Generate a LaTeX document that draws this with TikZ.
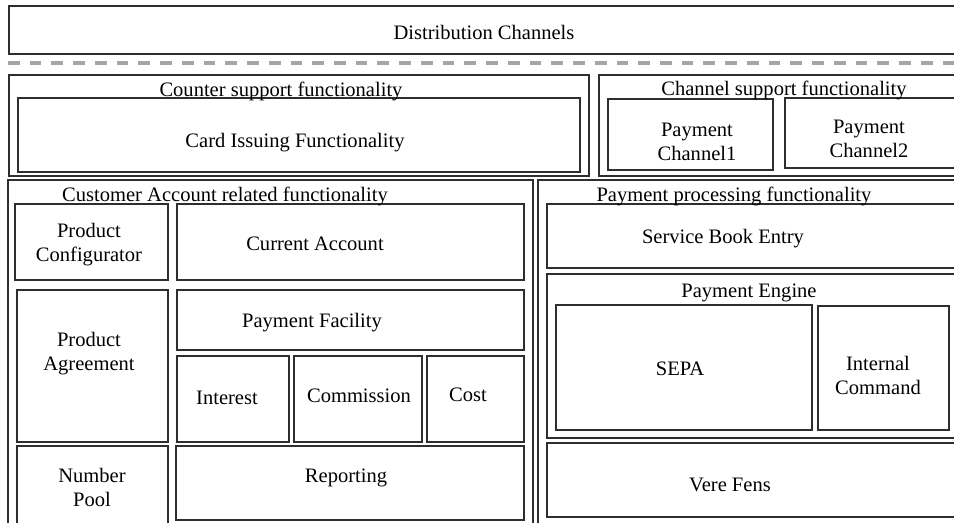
\documentclass[tikz,border=0pt]{standalone}
\usepackage{fontspec}
\setmainfont{Liberation Serif}
\definecolor{linec}{HTML}{2E2E2E}
\definecolor{dashc}{HTML}{A6A6A6}
\newcommand\pxbox[5]{%
  \node[box, minimum width={(#4-#2)*0.75pt}, minimum height={(#5-#3)*0.75pt}] (#1) at ({(#2+#4)/2},{(#3+#5)/2}) {};}
\begin{document}
\begin{tikzpicture}[x=0.75pt,y=-0.75pt,
  box/.style={draw=linec, line width=0.95pt, inner sep=0pt, outer sep=0pt},
  lbl/.style={inner sep=0pt, align=center, yshift=-1.8pt, font=\fontsize{15.4}{18}\selectfont},
  dashline/.style={draw=dashc, line width=3pt, dash pattern=on 8.8pt off 7.5pt}]
\useasboundingbox (0,0) rectangle (954,522);
\clip (0,0) rectangle (954,522);
\fill[white] (0,0) rectangle (954,522);

% top
\pxbox{dist}{9}{6}{960}{54}
\coordinate (dl) at (8,63);
\coordinate (dr) at (962,63);
\draw[dashline] (dl) -- (dr);

% counter support
\pxbox{counter}{9}{75}{589}{176}
\pxbox{card}{18}{98}{580}{172}
% channel support
\pxbox{chansup}{599}{75}{960}{176}
\pxbox{pcone}{608}{99}{773}{170}
\pxbox{pctwo}{785}{98}{956}{168}

% customer account
\pxbox{custacc}{8}{180}{533}{540}
\pxbox{prodconf}{15}{204}{168}{280}
\pxbox{curacc}{177}{204}{524}{280}
\pxbox{prodagr}{17}{290}{168}{442}
\pxbox{payfac}{177}{290}{524}{350}
\pxbox{interest}{177}{356}{289}{442}
\pxbox{commission}{294}{356}{422}{442}
\pxbox{cost}{427}{356}{524}{442}
\pxbox{numpool}{17}{446}{168}{540}
\pxbox{reporting}{176}{446}{524}{520}

% payment processing
\pxbox{payproc}{538}{180}{960}{540}
\pxbox{sbe}{547}{204}{960}{268}
\pxbox{peng}{547}{274}{960}{438}
\pxbox{sepa}{556}{305}{812}{430}
\pxbox{intcmd}{818}{306}{949}{430}
\pxbox{vere}{547}{443}{960}{517}

% labels
\node[lbl] (tdist) at (484,30) {Distribution Channels};
\node[lbl] (tcounter) at (281,89) {Counter support functionality};
\node[lbl] (tcard) at (295,140) {Card Issuing Functionality};
\node[lbl] (tchansup) at (784,88) {Channel support functionality};
\node[lbl] (tpcone) at (697,139) {Payment\\Channel1};
\node[lbl] (tpctwo) at (869,136) {Payment\\Channel2};
\node[lbl] (tcustacc) at (225,194) {Customer Account related functionality};
\node[lbl] (tprodconf) at (89,242) {Product\\Configurator};
\node[lbl] (tcuracc) at (315,241) {Current Account};
\node[lbl] (tprodagr) at (89,351) {Product\\Agreement};
\node[lbl] (tpayfac) at (312,320) {Payment Facility};
\node[lbl] (tinterest) at (227,395) {Interest};
\node[lbl] (tcommission) at (359,393) {Commission};
\node[lbl] (tcost) at (468,392) {Cost};
\node[lbl] (tnumpool) at (92,485) {Number\\Pool};
\node[lbl] (treporting) at (346,476) {Reporting};
\node[lbl] (tpayproc) at (734,194) {Payment processing functionality};
\node[lbl] (tsbe) at (723,236) {Service Book Entry};
\node[lbl] (tpeng) at (749,291) {Payment Engine};
\node[lbl] (tsepa) at (680,366) {SEPA};
\node[lbl] (tintcmd) at (878,373) {Internal\\Command};
\node[lbl] (tvere) at (730,483) {Vere Fens};
\end{tikzpicture}
\end{document}
